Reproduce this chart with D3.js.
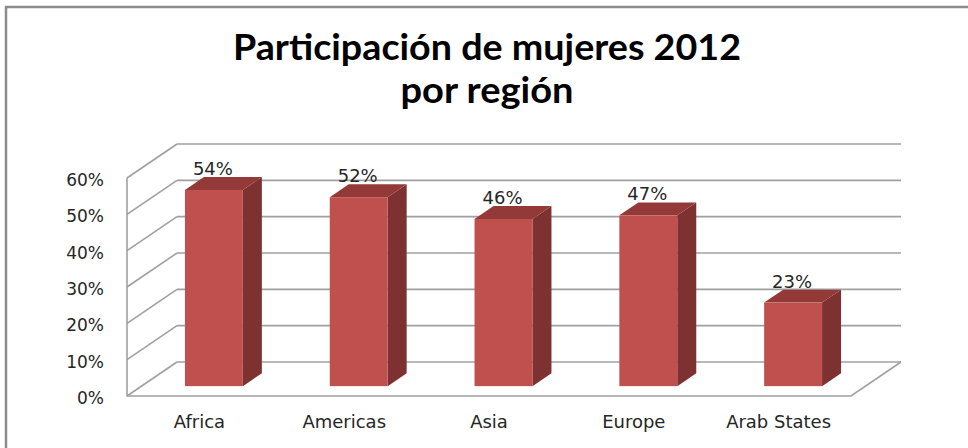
<!DOCTYPE html>
<html>
<head>
<meta charset="utf-8">
<script src="https://cdn.jsdelivr.net/npm/d3@7"></script>
<style>
  body { margin: 0; background: #fff; }
  .tick-label, .cat-label, .value-label { font-family: 'DejaVu Sans', Verdana, sans-serif; fill: #262626; }
  .title { font-family: Lato, 'Open Sans', sans-serif; font-weight: bold; fill: #000; }
</style>
</head>
<body>
<div id="chart"></div>
<script>
// Data
var regions = ['Africa', 'Americas', 'Asia', 'Europe', 'Arab States'];
var shares = [0.54, 0.52, 0.46, 0.47, 0.23];
var yTicks = [0, 0.1, 0.2, 0.3, 0.4, 0.5, 0.6];
var titleLines = ['Participación de mujeres 2012', 'por región'];

var width = 968,
    height = 448;

// Front plane of the 3D box
var plot = { left: 127, right: 851, top: 178, bottom: 396 };
// Full depth offset of the box (back wall vs front plane)
var depth = { dx: 50, dy: -34 };
// Bars sit between these depth fractions
var barDepth = [0.29, 0.67];

var svg = d3.select('#chart')
            .append('svg')
            .attr('width', width)
            .attr('height', height);

// Chart area border
svg.append('path')
   .attr('d', 'M6,' + height + 'V7H' + width)
   .attr('fill', 'none')
   .attr('stroke', '#8c8c8c')
   .attr('stroke-width', 2.5);

// Scales
var x = d3.scaleBand()
          .domain(regions)
          .range([plot.left, plot.right])
          .paddingInner(0.6)
          .paddingOuter(0.3);

var y = d3.scaleLinear()
          .domain([0, 0.6])
          .range([plot.bottom, plot.top]);

var gridColor = '#a0a0a0';

// Back wall gridlines
svg.append('g')
   .selectAll('line')
   .data(yTicks)
   .enter()
   .append('line')
   .attr('x1', plot.left + depth.dx)
   .attr('x2', plot.right + depth.dx)
   .attr('y1', function(d) { return y(d) + depth.dy; })
   .attr('y2', function(d) { return y(d) + depth.dy; })
   .attr('stroke', gridColor)
   .attr('stroke-width', 1.6);

// Side wall gridlines
svg.append('g')
   .selectAll('line')
   .data(yTicks)
   .enter()
   .append('line')
   .attr('x1', plot.left)
   .attr('x2', plot.left + depth.dx)
   .attr('y1', function(d) { return y(d); })
   .attr('y2', function(d) { return y(d) + depth.dy; })
   .attr('stroke', gridColor)
   .attr('stroke-width', 1.6);

// Front vertical axis + floor edges
svg.append('path')
   .attr('d', 'M' + plot.left + ',' + y(0.6) + 'V' + y(0) + 'H' + plot.right +
              'l' + depth.dx + ',' + depth.dy)
   .attr('fill', 'none')
   .attr('stroke', gridColor)
   .attr('stroke-width', 1.6);

// Y tick labels
svg.append('g')
   .selectAll('text')
   .data(yTicks)
   .enter()
   .append('text')
   .attr('class', 'tick-label')
   .attr('x', 104)
   .attr('y', function(d) { return y(d) + 2; })
   .attr('dy', '0.35em')
   .attr('text-anchor', 'end')
   .style('font-size', '17px')
   .text(d3.format('.0%'));

// Bars
var bars = regions.map(function(r, i) { return { region: r, value: shares[i] }; });

var f0x = barDepth[0] * depth.dx, f0y = barDepth[0] * depth.dy,
    f1x = barDepth[1] * depth.dx, f1y = barDepth[1] * depth.dy;
var bw = x.bandwidth();

var bar = svg.append('g')
             .selectAll('g')
             .data(bars)
             .enter()
             .append('g');

// side face
bar.append('path')
   .attr('fill', '#7d3130')
   .attr('d', function(d) {
     var xr = x(d.region) + bw, yt = y(d.value), yb = y(0);
     return 'M' + (xr + f0x) + ',' + (yb + f0y) +
            'L' + (xr + f1x) + ',' + (yb + f1y) +
            'L' + (xr + f1x) + ',' + (yt + f1y) +
            'L' + (xr + f0x) + ',' + (yt + f0y) + 'Z';
   });

// top face
bar.append('path')
   .attr('fill', '#933a38')
   .attr('d', function(d) {
     var xl = x(d.region), yt = y(d.value);
     return 'M' + (xl + f0x) + ',' + (yt + f0y) +
            'L' + (xl + f1x) + ',' + (yt + f1y) +
            'L' + (xl + bw + f1x) + ',' + (yt + f1y) +
            'L' + (xl + bw + f0x) + ',' + (yt + f0y) + 'Z';
   });

// front face
bar.append('rect')
   .attr('fill', '#c0504d')
   .attr('x', function(d) { return x(d.region) + f0x; })
   .attr('y', function(d) { return y(d.value) + f0y; })
   .attr('width', bw)
   .attr('height', function(d) { return y(0) - y(d.value); });

// Value labels
bar.append('text')
   .attr('class', 'value-label')
   .attr('x', function(d) { return x(d.region) + f0x + bw / 2 - 1; })
   .attr('y', function(d) { return y(d.value) + f1y - 2; })
   .attr('text-anchor', 'middle')
   .style('font-size', '18px')
   .text(function(d) { return d3.format('.0%')(d.value); });

// Category labels
svg.append('g')
   .selectAll('text')
   .data(regions)
   .enter()
   .append('text')
   .attr('class', 'cat-label')
   .attr('x', function(d) { return x(d) + bw / 2; })
   .attr('y', 428)
   .attr('text-anchor', 'middle')
   .style('font-size', '18px')
   .text(function(d) { return d; });

// Title
var titleWidths = [508, 173];
svg.append('g')
   .selectAll('text')
   .data(titleLines)
   .enter()
   .append('text')
   .attr('class', 'title')
   .attr('x', 487)
   .attr('y', function(d, i) { return 60 + i * 43; })
   .attr('text-anchor', 'middle')
   .attr('textLength', function(d, i) { return titleWidths[i]; })
   .attr('lengthAdjust', 'spacingAndGlyphs')
   .style('font-size', '36px')
   .text(function(d) { return d; });
</script>
</body>
</html>
